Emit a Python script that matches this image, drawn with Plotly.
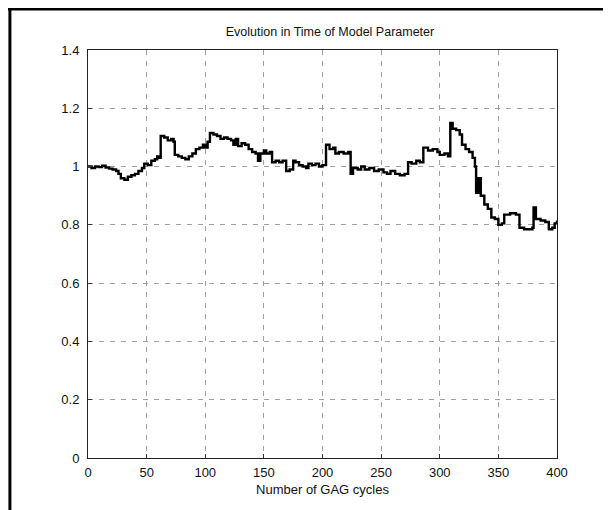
import plotly.graph_objects as go

cycles = [0, 3, 6, 9, 12, 15, 18, 21, 24, 26, 28, 31, 34, 37, 40, 43, 46, 48, 51, 54,
          57, 59, 61, 62, 65, 68, 71, 73, 74, 77, 80, 83, 86, 89, 92, 95, 98, 100, 102, 104,
          107, 110, 113, 116, 119, 122, 124, 126, 128, 131, 134, 137, 140, 143, 145, 147, 150, 152, 155, 157,
          160, 163, 166, 169, 172, 175, 177, 180, 183, 186, 188, 191, 194, 197, 200, 203, 206, 209, 211, 214,
          218, 222, 224, 226, 230, 233, 236, 240, 244, 248, 252, 255, 258, 262, 266, 270, 273, 276, 280, 283,
          286, 290, 294, 298, 300, 304, 307, 309, 311, 314, 317, 319, 322, 325, 328, 330, 331, 333, 335, 338,
          341, 344, 347, 350, 353, 355, 360, 365, 368, 372, 376, 379, 380, 382, 386, 390, 393, 396, 398, 400]
param = [1.000, 0.995, 1.000, 0.998, 1.003, 0.997, 0.993, 0.990, 0.985, 0.975, 0.960, 0.955, 0.965, 0.970, 0.975, 0.985, 0.995, 1.010, 1.005, 1.020,
         1.025, 1.035, 1.030, 1.105, 1.100, 1.090, 1.095, 1.085, 1.040, 1.035, 1.030, 1.025, 1.035, 1.045, 1.060, 1.065, 1.075, 1.065, 1.085, 1.115,
         1.110, 1.105, 1.095, 1.100, 1.095, 1.090, 1.075, 1.095, 1.070, 1.080, 1.075, 1.060, 1.050, 1.045, 1.020, 1.045, 1.055, 1.045, 1.050, 1.015,
         1.020, 1.015, 1.020, 0.985, 0.990, 1.020, 1.015, 1.005, 1.000, 0.995, 1.010, 1.005, 1.010, 1.000, 1.005, 1.075, 1.060, 1.065, 1.045, 1.050,
         1.045, 1.050, 0.975, 0.995, 0.990, 1.000, 0.990, 0.995, 0.985, 0.990, 0.980, 0.975, 0.985, 0.975, 0.970, 0.975, 1.015, 1.010, 1.020, 1.015,
         1.065, 1.055, 1.060, 1.050, 1.040, 1.045, 1.035, 1.150, 1.130, 1.125, 1.110, 1.075, 1.060, 1.050, 1.030, 1.000, 0.910, 0.960, 0.900, 0.870,
         0.855, 0.825, 0.820, 0.800, 0.805, 0.835, 0.840, 0.835, 0.790, 0.785, 0.785, 0.790, 0.860, 0.820, 0.815, 0.810, 0.785, 0.790, 0.805, 0.815]

x_ticks = [0, 50, 100, 150, 200, 250, 300, 350, 400]
y_ticks = [0, 0.2, 0.4, 0.6, 0.8, 1.0, 1.2, 1.4]
y_tick_labels = ["0", "0.2", "0.4", "0.6", "0.8", "1", "1.2", "1.4"]

fig = go.Figure()
fig.add_trace(go.Scatter(x=cycles, y=param, mode="lines",
                         line=dict(color="black", width=2.4, shape="hv"),
                         showlegend=False))

font = "Liberation Sans, Arial, sans-serif"
axis_common = dict(showline=True, linecolor="#222", linewidth=1, mirror=True,
                   ticks="inside", ticklen=4, tickcolor="#333",
                   showgrid=True, gridcolor="#a0a0a0", gridwidth=1, griddash="5px,6px",
                   zeroline=False, tickfont=dict(family=font, size=13, color="#111"))

fig.update_xaxes(range=[0, 400], tickvals=x_ticks, ticklabelstandoff=2,
                 title=dict(text="Number of GAG cycles", font=dict(family=font, size=13, color="#111"), standoff=6),
                 **axis_common)
fig.update_yaxes(range=[0, 1.4], tickvals=y_ticks, ticktext=y_tick_labels, ticklabelstandoff=5,
                 **axis_common)

# outer frame of the scanned figure
fig.add_shape(type="line", xref="paper", yref="paper", x0=-0.19, x1=1.14, y0=1.10, y1=1.10,
              line=dict(color="black", width=2.5))
fig.add_shape(type="line", xref="paper", yref="paper", x0=-0.1665, x1=-0.1665, y0=1.10, y1=-0.16,
              line=dict(color="black", width=3))

fig.update_layout(
    width=611, height=510,
    margin=dict(l=80, r=62, t=42, b=60),
    paper_bgcolor="white", plot_bgcolor="white",
    title=dict(text="Evolution in Time of Model Parameter", x=0.527, xanchor="center",
               yref="container", y=0.953, yanchor="middle",
               font=dict(family=font, size=12.5, color="#111")),
)

fig.write_html("out.html")
